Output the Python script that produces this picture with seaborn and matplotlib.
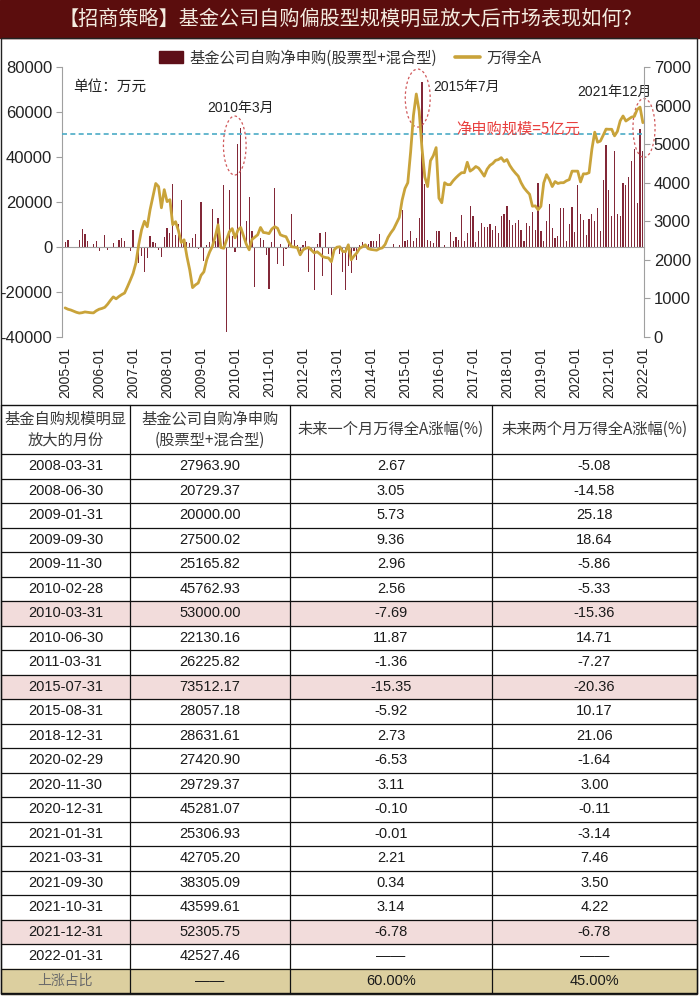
import numpy as np
import pandas as pd
import matplotlib
matplotlib.use("Agg")
import matplotlib.pyplot as plt
import seaborn as sns
from matplotlib.patches import Rectangle, Ellipse
from matplotlib.lines import Line2D

# ---------------- data ----------------
start_month = "2005-01"
tick_labels = ["2005-01", "2006-01", "2007-01", "2008-01", "2009-01", "2010-01",
               "2011-01", "2012-01", "2013-01", "2014-01", "2015-01", "2016-01",
               "2017-01", "2018-01", "2019-01", "2020-01", "2021-01", "2022-01"]

# 基金公司自购净申购(股票型+混合型), 万元, monthly 2005-01 .. 2022-01
net_purchase = [
    2000, 3300, 0, 0, 0, 2900, 8000, 5800, 2500, 0, 1500, 2500,                       # 2005
    -1900, 0, 5500, -1200, 0, 1800, 0, 3000, 4000, 2500, -500, -1900,                 # 2006
    7500, 0, -7000, -4000, -11000, -5000, 4800, 2000, 1800, -1200, -4400, 4400,       # 2007
    8500, 6200, 27963.90, 5500, 10200, 20729.37, 3500, 2000, 1800, 4000, 5800, -1000, # 2008
    20000.00, -6400, 1000, 2200, 17000, 2500, 13000, 3000, 27500.02, -38000, 25165.82, 5000,  # 2009
    -2300, 45762.93, 53000.00, 0, 11500, 22130.16, 7000, -17800, 0, 4000, 3200, -3400,  # 2010
    -18700, 2000, 26225.82, -7400, 1500, -8600, -1000, 1500, 14500, 3000, 1000, -1600,  # 2011
    1000, 2500, -11000, -2000, -19000, 1500, 6200, -13000, 6700, -3000, -21500, -1000,  # 2012
    600, -3000, -10900, -19000, -8600, -11500, -2000, -5600, 1000, 2000, 0, 1500,      # 2013
    2500, 2500, 2500, 5800, 0, 0, 0, 0, 1500, 0, 1000, 16300,                          # 2014
    2500, 3300, 7000, 2500, 4000, 13000, 73512.17, 28057.18, 3300, 2500, 1800, 7000,   # 2015
    7000, 0, 1000, 0, 6700, 2500, 4400, 3300, 14000, 2800, 6200, 18300,                # 2016
    13600, 2000, 7000, 10700, 8900, 8900, 10000, 7700, 9200, 6200, 13900, 14800,       # 2017
    18100, 11900, 9900, 10700, 11900, 7700, 2500, 10700, 9200, 15400, 7700, 28631.61,  # 2018
    7000, 2500, 11400, 19300, 8500, 4000, 4700, 17300, 17300, 2500, 10400, 17600,      # 2019
    6700, 27420.90, 14800, 11900, 5500, 12600, 14500, 11400, 17300, 7000, 29729.37, 45281.07,  # 2020
    25306.93, 13900, 42705.20, 14800, 13600, 28400, 27700, 31100, 38305.09, 43599.61, 19600, 52305.75,  # 2021
    42527.46,                                                                          # 2022
]

# 万得全A, monthly close
wind_all_a = [
    755, 720, 700, 670, 640, 620, 630, 650, 640, 630, 625, 680,                # 2005
    720, 740, 770, 850, 950, 1040, 990, 1050, 1100, 1140, 1300, 1470,          # 2006
    1650, 1920, 2400, 2780, 3000, 2860, 3300, 3640, 3980, 3900, 3350, 3820,    # 2007
    3510, 3560, 2910, 2990, 2760, 2450, 2520, 2090, 1740, 1280, 1350, 1400,    # 2008
    1600, 1690, 2000, 2200, 2350, 2600, 2910, 2320, 2300, 2515, 2730, 2810,    # 2009
    2570, 2770, 2840, 2620, 2400, 2260, 2530, 2590, 2650, 2840, 2710, 2700,    # 2010
    2680, 2800, 2860, 2820, 2650, 2620, 2600, 2450, 2340, 2330, 2320, 2130,    # 2011
    2260, 2300, 2320, 2250, 2180, 2210, 2150, 2080, 2060, 2050, 1950, 2260,    # 2012
    2330, 2340, 2220, 2210, 2390, 2000, 2100, 2180, 2300, 2340, 2390, 2290,    # 2013
    2270, 2260, 2250, 2290, 2310, 2400, 2580, 2700, 2800, 2950, 3100, 3550,    # 2014
    3850, 4000, 4800, 5750, 6300, 5860, 4900, 4150, 3900, 4570, 4700, 4910,    # 2015
    3600, 3480, 4000, 3950, 3950, 4050, 4130, 4200, 4260, 4260, 4530, 4300,    # 2016
    4350, 4420, 4380, 4280, 4170, 4350, 4450, 4500, 4580, 4600, 4650, 4550,    # 2017
    4600, 4450, 4340, 4250, 4170, 4000, 3870, 3780, 3700, 3390, 3400, 3300,    # 2018
    3390, 3995, 4210, 4080, 3900, 4030, 3980, 4000, 4000, 4050, 4080, 4300,    # 2019
    4300, 4300, 4020, 4230, 4230, 4260, 4870, 5310, 5050, 5080, 5230, 5390,    # 2020
    5385, 5385, 5215, 5330, 5605, 5730, 5600, 5650, 5700, 5720, 5900, 5960,    # 2021
    5556,                                                                      # 2022
]

# table
tbl_dates = ["2008-03-31", "2008-06-30", "2009-01-31", "2009-09-30", "2009-11-30",
             "2010-02-28", "2010-03-31", "2010-06-30", "2011-03-31", "2015-07-31",
             "2015-08-31", "2018-12-31", "2020-02-29", "2020-11-30", "2020-12-31",
             "2021-01-31", "2021-03-31", "2021-09-30", "2021-10-31", "2021-12-31",
             "2022-01-31"]
tbl_net = [27963.90, 20729.37, 20000.00, 27500.02, 25165.82, 45762.93, 53000.00,
           22130.16, 26225.82, 73512.17, 28057.18, 28631.61, 27420.90, 29729.37,
           45281.07, 25306.93, 42705.20, 38305.09, 43599.61, 52305.75, 42527.46]
tbl_r1 = [2.67, 3.05, 5.73, 9.36, 2.96, 2.56, -7.69, 11.87, -1.36, -15.35, -5.92,
          2.73, -6.53, 3.11, -0.10, -0.01, 2.21, 0.34, 3.14, -6.78, None]
tbl_r2 = [-5.08, -14.58, 25.18, 18.64, -5.86, -5.33, -15.36, 14.71, -7.27, -20.36,
          10.17, 21.06, -1.64, 3.00, -0.11, -3.14, 7.46, 3.50, 4.22, -6.78, None]
highlight_dates = ["2010-03-31", "2015-07-31", "2021-12-31"]

title = "【招商策略】基金公司自购偏股型规模明显放大后市场表现如何？"
legend_labels = ["基金公司自购净申购(股票型+混合型)", "万得全A"]
headers = ["基金自购规模明显\n放大的月份", "基金公司自购净申购\n(股票型+混合型)",
           "未来一个月万得全A涨幅(%)", "未来两个月万得全A涨幅(%)"]

# ---------------- style ----------------
sns.set_style("white")
plt.rcParams["font.family"] = ["Liberation Sans", "Noto Sans CJK SC", "DejaVu Sans"]
CJK = ["Noto Sans CJK SC", "Liberation Sans", "DejaVu Sans"]
MIX = ["Liberation Sans", "Noto Sans CJK SC", "DejaVu Sans"]

BAR_C = "#822838"
LEG_C = "#5e0f18"
LINE_C = "#C9A33A"
AX_C = "#a0a0a0"

W, H = 700, 996
fig = plt.figure(figsize=(W / 100, H / 100), dpi=100)

bg = fig.add_axes([0, 0, 1, 1])
bg.set_xlim(0, W)
bg.set_ylim(H, 0)
bg.axis("off")

bg.add_patch(Rectangle((0, 0), W, 38, color="#5b0d0d", zorder=1))
bg.text(W / 2, 19, title, ha="center", va="center", color="#f4ece0",
        fontsize=14.5, family=CJK, zorder=2)
bg.add_patch(Rectangle((1, 38), 696, 956, fill=False, ec="#222222", lw=1.0, zorder=3))

# ---------------- chart ----------------
df = pd.DataFrame({"m": np.arange(len(net_purchase)),
                   "net": net_purchase, "wind": wind_all_a})
month_labels = list(pd.period_range(start_month, periods=len(df), freq="M").strftime("%Y-%m"))

ax = fig.add_axes([62 / W, 1 - 337 / H, (644 - 62) / W, (337 - 67) / H])
ax.patch.set_alpha(0)
sns.barplot(data=df, x="m", y="net", native_scale=True, color=BAR_C,
            saturation=1, width=0.42, linewidth=0, errorbar=None, ax=ax)

ax.axhline(50000, color="#4bacc6", ls=(0, (3, 2)), lw=1.2, zorder=4)

ax2 = ax.twinx()
sns.lineplot(data=df, x="m", y="wind", ax=ax2, color=LINE_C, lw=2.0)

ax.set_xlim(-1.1, 204.4)
ax.set_ylim(-40000, 80000)
ax.set_yticks(np.arange(-40000, 80001, 20000))
ax.set_yticklabels([f"{v:d}" for v in np.arange(-40000, 80001, 20000)])
tick_pos = [month_labels.index(t) for t in tick_labels]
ax.set_xticks(tick_pos)
ax.set_xticklabels(tick_labels)
ax.set_xlabel("")
ax.set_ylabel("")
for s in ["top", "right"]:
    ax.spines[s].set_visible(False)
ax.spines["bottom"].set_position(("data", 0))
ax.spines["bottom"].set_color(AX_C)
ax.spines["left"].set_color(AX_C)
ax.tick_params(axis="x", direction="out", length=4, color=AX_C, pad=68,
               labelrotation=90, labelsize=10, labelcolor="#222222")
ax.tick_params(axis="y", direction="out", length=4, color=AX_C, labelsize=12,
               labelcolor="#222222", pad=3)

ax2.set_ylim(0, 7000)
ax2.set_yticks(np.arange(0, 7001, 1000))
ax2.set_ylabel("")
ax2.set_xlabel("")
for s in ["top", "bottom", "left"]:
    ax2.spines[s].set_visible(False)
ax2.spines["right"].set_color(AX_C)
ax2.tick_params(axis="y", direction="out", length=4, color=AX_C, labelsize=12,
                labelcolor="#222222", pad=3)

ann = [
    ("2010-03", "2010年3月", (0, 62000), (-2.1, 45100, 8.0, 26200)),
    ("2015-07", "2015年7月", (15.6, 71100), (-1.5, 66200, 8.8, 25800)),
    ("2021-12", "2021年12月", (-9, 68900), (1.4, 52900, 7.8, 26200)),
]
for mon, txt, (dx, ty), (ex, ey, ew, eh) in ann:
    idx = month_labels.index(mon)
    ax.text(idx + dx, ty, txt, ha="center", va="center", fontsize=10,
            family=MIX, color="#222222", zorder=6)
    ax.add_patch(Ellipse((idx + ex, ey), ew, eh, fill=False, ec="#d0585a",
                         lw=0.9, ls=(0, (2, 2)), clip_on=False, zorder=6))

ax.text(15.6, 71100, "单位：万元", ha="center", va="center", fontsize=10.5,
        family=CJK, color="#222222")
ax.text(160, 52400, "净申购规模=5亿元", ha="center", va="center", fontsize=11,
        family=CJK, color="#e8403f", zorder=6)

handles = [Rectangle((0, 0), 1, 1, color=LEG_C), Line2D([], [], color=LINE_C, lw=2.6)]
leg = fig.legend(handles, legend_labels, loc="center", bbox_to_anchor=(0.5, 1 - 58 / H),
                 ncol=2, frameon=False, handlelength=1.6, handleheight=0.8,
                 columnspacing=1.2, handletextpad=0.4,
                 prop={"family": CJK, "size": 11})
for t in leg.get_texts():
    t.set_color("#333333")

# ---------------- table ----------------
col_x = [1, 130, 290, 492, 697]
head_top, head_bot = 405, 454
row_h = 24.5

def fmt(v):
    return "——" if v is None else f"{v:.2f}"

up1 = sum(1 for v in tbl_r1 if v is not None and v > 0) / sum(1 for v in tbl_r1 if v is not None)
up2 = sum(1 for v in tbl_r2 if v is not None and v > 0) / sum(1 for v in tbl_r2 if v is not None)

rows = [[d, f"{n:.2f}", fmt(a), fmt(b)] for d, n, a, b in zip(tbl_dates, tbl_net, tbl_r1, tbl_r2)]
rows.append(["上涨占比", "——", f"{up1 * 100:.2f}%", f"{up2 * 100:.2f}%"])

for i, r in enumerate(rows):
    y0 = head_bot + i * row_h
    if r[0] in highlight_dates:
        bg.add_patch(Rectangle((col_x[0], y0), col_x[-1] - col_x[0], row_h,
                               color="#f2dcdb", zorder=1))
    if i == len(rows) - 1:
        bg.add_patch(Rectangle((col_x[0], y0), col_x[-1] - col_x[0], H - y0 - 2,
                               color="#dccf9f", zorder=1))

bottom = min(head_bot + len(rows) * row_h, H - 2)
bg.plot([col_x[0], col_x[-1]], [head_top, head_top], color="#111111", lw=1.0, zorder=3)
for i in range(len(rows)):
    y = head_bot + i * row_h
    bg.plot([col_x[0], col_x[-1]], [y, y], color="#111111", lw=0.9, zorder=3)
bg.plot([col_x[0], col_x[-1]], [bottom, bottom], color="#111111", lw=1.0, zorder=3)
for x in col_x:
    bg.plot([x, x], [head_top, bottom], color="#111111", lw=0.9, zorder=3)

for j, h in enumerate(headers):
    cx = (col_x[j] + col_x[j + 1]) / 2
    bg.text(cx, (head_top + head_bot) / 2, h, ha="center", va="center",
            fontsize=11, family=CJK, color="#3a3a3a", linespacing=1.35, zorder=4)

for i, r in enumerate(rows):
    cy = head_bot + i * row_h + row_h / 2
    for j, cell in enumerate(r):
        cx = (col_x[j] + col_x[j + 1]) / 2
        is_label = (i == len(rows) - 1 and j == 0)
        bg.text(cx, cy, cell, ha="center", va="center",
                fontsize=10.5 if not is_label else 10,
                family=CJK if is_label else MIX,
                color="#6b6b6b" if is_label else "#1a1a1a", zorder=4)

fig.savefig("out.png", dpi=100)
